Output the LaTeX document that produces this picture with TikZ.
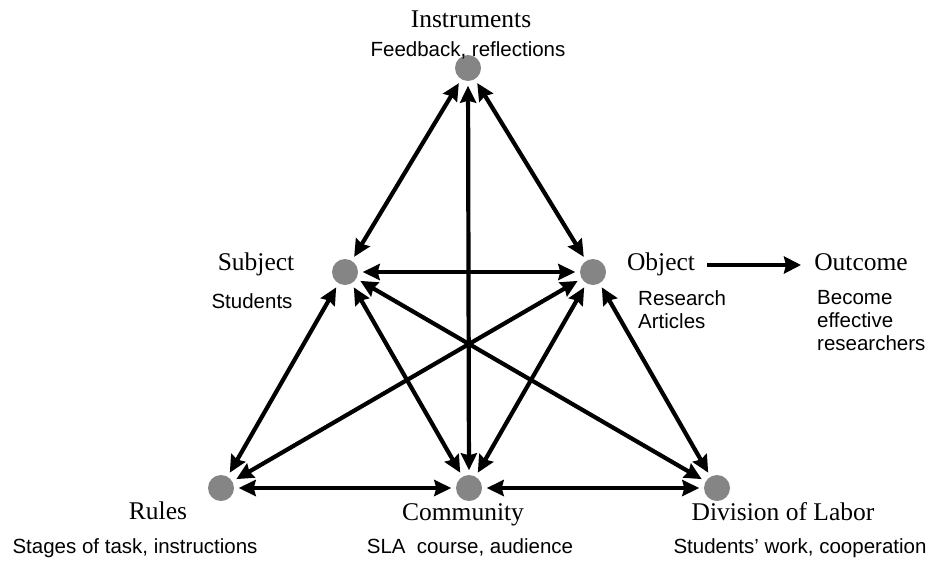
\documentclass[tikz,border=0pt]{standalone}
\usepackage{fontspec}
\setmainfont{Liberation Serif}
\setsansfont{Liberation Sans}
\usetikzlibrary{arrows.meta}
\begin{document}
\begin{tikzpicture}[x=1pt,y=-1pt,
  dot/.style={circle,fill=black!48,minimum size=26pt,inner sep=0pt},
  arr/.style={line width=4.2pt,{Stealth[length=17pt,width=16pt,inset=2pt]}-{Stealth[length=17pt,width=16pt,inset=2pt]},shorten >=4.5pt,shorten <=4.5pt},
  onearr/.style={line width=4.6pt,-{Stealth[length=17pt,width=17pt,inset=2pt]}},
  ttl/.style={font=\fontsize{25.5}{28}\selectfont,inner sep=0pt,anchor=base},
  sub/.style={font=\sffamily\fontsize{20.5}{23}\selectfont,inner sep=0pt,anchor=base},
  subl/.style={font=\sffamily\fontsize{20.5}{23}\selectfont,inner sep=0pt,anchor=north west,align=left}]
\useasboundingbox (0,0) rectangle (933,560);
% dots
\node[dot] (I) at (468,68) {};
\node[dot] (S) at (345,272) {};
\node[dot] (O) at (593,272) {};
\node[dot] (R) at (221,488) {};
\node[dot] (C) at (469,488) {};
\node[dot] (D) at (717,488) {};
% connectors
\draw[arr] (I) -- (S);
\draw[arr] (I) -- (O);
\draw[arr] (I) -- (C);
\draw[arr] (S) -- (O);
\draw[arr] (S) -- (R);
\draw[arr] (S) -- (C);
\draw[arr] (S) -- (D);
\draw[arr] (O) -- (R);
\draw[arr] (O) -- (C);
\draw[arr] (O) -- (D);
\draw[arr] (R) -- (C);
\draw[arr] (C) -- (D);
% labels
\node[ttl] (tI) at (471,27) {Instruments};
\node[sub] (sI) at (468,56) {Feedback, reflections};
\node[ttl] (tS) at (256,270) {Subject};
\node[sub] (sS) at (252,308) {Students};
\node[ttl] (tO) at (661,270) {Object};
\node[subl] (sO) at (638,290) {Research\\Articles};
\node[ttl] (tOut) at (861,270) {Outcome};
\node[subl] (sOut) at (817,290) {Become\\effective\\researchers};
\coordinate (a1) at (707,265);
\coordinate (a2) at (801,265);
\draw[onearr] (a1) -- (a2);
\node[ttl] (tR) at (158,519) {Rules};
\node[sub] (sR) at (135,553) {Stages of task, instructions};
\node[ttl] (tC) at (463,520) {Community};
\node[sub] (sC) at (470,553) {SLA~ course, audience};
\node[ttl] (tD) at (783,520) {Division of Labor};
\node[sub] (sD) at (800,553) {Students' work, cooperation};
\end{tikzpicture}
\end{document}
